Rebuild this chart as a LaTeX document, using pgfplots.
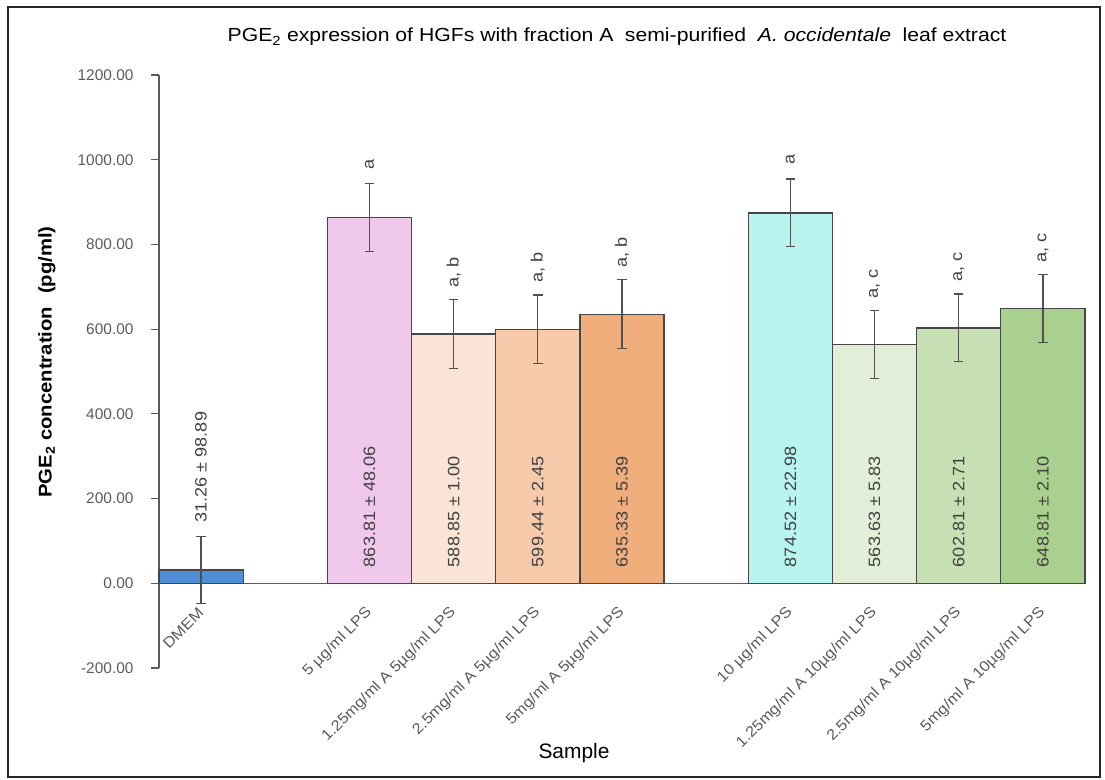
\documentclass[border=0pt]{standalone}
\usepackage{fontspec}
\setmainfont{Liberation Sans}
\newfontfamily\widefont[FakeStretch=1.12]{Liberation Sans}
\newfontfamily\midfont[FakeStretch=1.1]{Liberation Sans}
\usepackage{pgfplots}
\pgfplotsset{compat=1.18}
\definecolor{cDMEM}{RGB}{79,142,212}
\definecolor{cPink}{RGB}{240,200,236}
\definecolor{cLPeach}{RGB}{250,228,214}
\definecolor{cPeach}{RGB}{246,202,170}
\definecolor{cOrange}{RGB}{241,174,125}
\definecolor{cCyan}{RGB}{185,244,240}
\definecolor{cLGreen}{RGB}{227,238,216}
\definecolor{cGreen}{RGB}{198,224,180}
\definecolor{cDGreen}{RGB}{169,208,142}
\definecolor{barline}{RGB}{70,70,70}
\definecolor{errcol}{RGB}{80,80,80}
\definecolor{axgray}{RGB}{90,90,90}
\definecolor{tickgray}{RGB}{90,90,90}
\definecolor{valgray}{RGB}{64,64,64}
\begin{document}
\begin{tikzpicture}[x=1bp,y=1bp,
  vallab/.style={rotate=90, anchor=west, inner sep=0pt, font=\midfont\fontsize{16.5}{16.5}\selectfont, text=valgray},
  letlab/.style={rotate=90, anchor=west, inner sep=0pt, font=\midfont\fontsize{16.5}{16.5}\selectfont, text=valgray}]
\useasboundingbox (-159,-112) rectangle (946,668);
\draw[line width=2bp, black!85] (-151,-109) rectangle (941,661);
\node[font=\widefont\fontsize{19}{19}\selectfont, text=black] at (458,631)
  {PGE\textsubscript{2} expression of HGFs with fraction A\hspace{0.3em} semi-purified\hspace{0.3em} \textit{A. occidentale}\hspace{0.3em} leaf extract};
\node[rotate=90, font=\midfont\bfseries\fontsize{18.5}{18.5}\selectfont] at (-112,306)
  {PGE\textsubscript{2} concentration\hspace{0.4em} (pg/ml)};
\node[font=\fontsize{21}{21}\selectfont] at (415,-85) {Sample};
\begin{axis}[
  at={(0,0)}, anchor=south west, scale only axis,
  width=926bp, height=593bp,
  xmin=-0.5, xmax=10.5, ymin=-200, ymax=1200,
  axis x line=middle, axis y line=left,
  hide obscured x ticks=false, hide obscured y ticks=false,
  axis line style={-, line width=1.3bp, color=axgray},
  xtick={0,2,3,4,5,7,8,9,10},
  xticklabels={DMEM, 5 µg/ml LPS, 1.25mg/ml A 5µg/ml LPS, 2.5mg/ml A 5µg/ml LPS, 5mg/ml A 5µg/ml LPS, 10 µg/ml LPS, 1.25mg/ml A 10µg/ml LPS, 2.5mg/ml A 10µg/ml LPS, 5mg/ml A 10µg/ml LPS},
  xtick style={draw=none},
  xticklabel style={rotate=45, anchor=east, font=\midfont\fontsize{15}{15}\selectfont, text=tickgray, inner sep=0pt},
  xticklabel shift=19bp,
  ytick={-200,0,200,400,600,800,1000,1200},
  tick align=outside, major tick length=8bp,
  ytick style={line width=1.2bp, color=axgray},
  yticklabel={\pgfmathprintnumber[fixed,fixed zerofill,precision=2,1000 sep={},assume math mode=true]{\tick}},
  yticklabel style={font=\fontsize{15.5}{15.5}\selectfont, text=tickgray, xshift=-14bp},
  mybar/.style={ybar, bar width=1, bar shift=0pt, fill=#1, draw=barline, line width=1.3bp,
    error bars/.cd, y dir=both, y explicit,
    error bar style={line width=1.2bp, color=errcol},
    error mark options={rotate=90, mark size=4.7bp, line width=1.2bp, color=errcol}},
  clip=false,
]
\addplot[mybar=cDMEM]   coordinates {(0,31.26)  +- (0,79)};
\addplot[mybar=cPink]   coordinates {(2,863.81) +- (0,80)};
\addplot[mybar=cLPeach] coordinates {(3,588.85) +- (0,81)};
\addplot[mybar=cPeach]  coordinates {(4,599.44) +- (0,81)};
\addplot[mybar=cOrange] coordinates {(5,635.33) +- (0,81)};
\addplot[mybar=cCyan]   coordinates {(7,874.52) +- (0,80)};
\addplot[mybar=cLGreen] coordinates {(8,563.63) +- (0,80)};
\addplot[mybar=cGreen]  coordinates {(9,602.81) +- (0,80)};
\addplot[mybar=cDGreen] coordinates {(10,648.81) +- (0,80)};
% value labels
\node[vallab] at ([yshift=14bp]axis cs:0,110.26) {31.26 ± 98.89};
\node[vallab] at ([yshift=16bp]axis cs:2,0) {863.81 ± 48.06};
\node[vallab] at ([yshift=16bp]axis cs:3,0) {588.85 ± 1.00};
\node[vallab] at ([yshift=16bp]axis cs:4,0) {599.44 ± 2.45};
\node[vallab] at ([yshift=16bp]axis cs:5,0) {635.33 ± 5.39};
\node[vallab] at ([yshift=16bp]axis cs:7,0) {874.52 ± 22.98};
\node[vallab] at ([yshift=16bp]axis cs:8,0) {563.63 ± 5.83};
\node[vallab] at ([yshift=16bp]axis cs:9,0) {602.81 ± 2.71};
\node[vallab] at ([yshift=16bp]axis cs:10,0) {648.81 ± 2.10};
% letters
\node[letlab] at ([yshift=14bp]axis cs:2,943.81) {a};
\node[letlab] at ([yshift=12bp]axis cs:3,669.85) {a, b};
\node[letlab] at ([yshift=12bp]axis cs:4,680.44) {a, b};
\node[letlab] at ([yshift=12bp]axis cs:5,716.33) {a, b};
\node[letlab] at ([yshift=14bp]axis cs:7,954.52) {a};
\node[letlab] at ([yshift=12bp]axis cs:8,643.63) {a, c};
\node[letlab] at ([yshift=12bp]axis cs:9,682.81) {a, c};
\node[letlab] at ([yshift=12bp]axis cs:10,728.81) {a, c};
\end{axis}
\end{tikzpicture}
\end{document}
